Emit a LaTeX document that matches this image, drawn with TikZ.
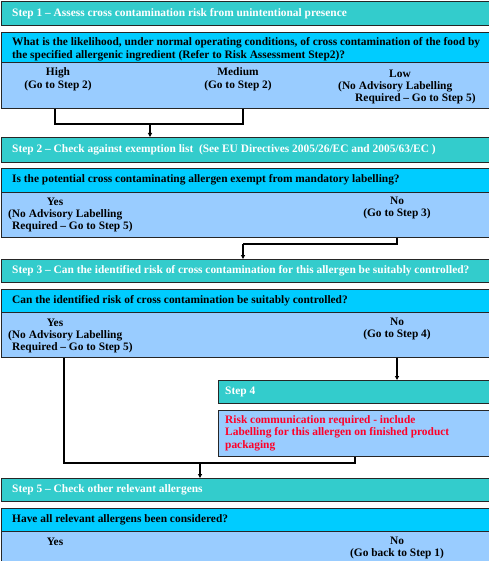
\documentclass[tikz,border=0pt]{standalone}
\usepackage{fontspec}
\setmainfont{Liberation Serif}
\usetikzlibrary{arrows.meta}
\definecolor{hdrc}{RGB}{51,204,204}
\definecolor{qc}{RGB}{0,204,255}
\definecolor{ac}{RGB}{153,204,255}
\definecolor{redc}{RGB}{255,0,40}
\begin{document}
\begin{tikzpicture}[x=1pt,y=-1pt,
  boxbase/.style={draw=black!85, line width=0.9pt, anchor=north west, inner sep=0pt, minimum width=#1},
  boxbase/.default=500pt,
  hdr/.style={boxbase, fill=hdrc},
  qbox/.style={boxbase, fill=qc},
  abox/.style={boxbase, fill=ac},
  ttl/.style={anchor=west, inner sep=0pt, text=white, font=\bfseries\fontsize{11.4}{12.5}\selectfont},
  qtxt/.style={anchor=west, inner sep=0pt, text=black, align=left, font=\bfseries\fontsize{11.4}{13}\selectfont},
  atxt/.style={anchor=center, inner sep=0pt, text=black, align=center, font=\bfseries\fontsize{11.4}{12.5}\selectfont},
  altxt/.style={anchor=west, inner sep=0pt, text=black, font=\bfseries\fontsize{11.4}{12.5}\selectfont},
  rtxt/.style={anchor=north west, inner sep=0pt, text=redc, align=left, font=\bfseries\fontsize{11.4}{12.5}\selectfont},
  conn/.style={draw=black, line width=1.1pt},
  arr/.style={conn, -{Triangle[length=4pt,width=4pt]}}
]
\useasboundingbox (0,0) rectangle (488,561);
\fill[white] (0,0) rectangle (488,561);

% ---- Step 1
\node[hdr, minimum height=24pt] (s1) at (1,1) {};
\node[ttl] (s1t) at (12,13.5) {Step 1 – Assess cross contamination risk from unintentional presence};
\node[qbox, minimum height=30pt] (q1) at (1,32) {};
\node[qtxt] (q1t) at (12,49) {What is the likelihood, under normal operating conditions, of cross contamination of the food by\\the specified allergenic ingredient (Refer to Risk Assessment Step2)?};
\node[abox, minimum height=46pt] (a1) at (1,62) {};
\node[atxt] (hi) at (58,79.5) {High\\(Go to Step 2)};
\node[atxt] (med) at (238,79.5) {Medium\\(Go to Step 2)};
\node[atxt] (low) at (400,73.5) {Low};
\node[altxt] (low2) at (338,86.5) {(No Advisory Labelling};
\node[altxt] (low3) at (355,99) {Required – Go to Step 5)};

% ---- Step 2
\node[hdr, minimum height=25pt] (s2) at (1,137) {};
\node[ttl] (s2t) at (12,150) {Step 2 – Check against exemption list \ (See EU Directives 2005/26/EC and 2005/63/EC )};
\node[qbox, minimum height=24pt] (q2) at (1,168) {};
\node[qtxt] (q2t) at (12,180) {Is the potential cross contaminating allergen exempt from mandatory labelling?};
\node[abox, minimum height=45pt] (a2) at (1,192) {};
\node[atxt] (y2) at (55,202) {Yes};
\node[altxt] (y2b) at (8,214.5) {(No Advisory Labelling};
\node[altxt] (y2c) at (12,227) {Required – Go to Step 5)};
\node[atxt] (n2) at (397,208) {No\\(Go to Step 3)};

% ---- Step 3
\node[hdr, minimum height=23pt] (s3) at (1,259) {};
\node[ttl] (s3t) at (12,270.5) {Step 3 – Can the identified risk of cross contamination for this allergen be suitably controlled?};
\node[qbox, minimum height=23pt] (q3) at (1,289) {};
\node[qtxt] (q3t) at (12,300.5) {Can the identified risk of cross contamination be suitably controlled?};
\node[abox, minimum height=45pt] (a3) at (1,312) {};
\node[atxt] (y3) at (55,323) {Yes};
\node[altxt] (y3b) at (8,335.5) {(No Advisory Labelling};
\node[altxt] (y3c) at (12,348) {Required – Go to Step 5)};
\node[atxt] (n3) at (397,329) {No\\(Go to Step 4)};

% ---- Step 4
\node[hdr, minimum height=23pt, minimum width=290pt] (s4) at (218,380) {};
\node[ttl] (s4t) at (225,391.5) {Step 4};
\node[abox, minimum height=46pt, minimum width=290pt] (r4) at (218,410) {};
\node[rtxt] (r4t) at (225,415) {Risk communication required - include\\Labelling for this allergen on finished product\\packaging};

% ---- Step 5
\node[hdr, minimum height=23pt] (s5) at (1,478) {};
\node[ttl] (s5t) at (12,489.5) {Step 5 – Check other relevant allergens};
\node[qbox, minimum height=23pt] (q5) at (1,508) {};
\node[qtxt] (q5t) at (12,519.5) {Have all relevant allergens been considered?};
\node[abox, minimum height=40pt] (a5) at (1,531) {};
\node[atxt] (y5) at (55,542) {Yes};
\node[atxt] (n5) at (397,548) {No\\(Go back to Step 1)};

% ---- connectors
\coordinate (j1) at (150,124);
\draw[conn] (a1.south -| 55,0) |- (j1) -| (a1.south -| 243,0);
\draw[arr] (j1) -- (s2.north -| j1);

\coordinate (j2) at (243,244);
\draw[conn] (a2.south -| n2) |- (j2);
\draw[arr] (j2) -- (s3.north -| j2);

\draw[arr] (a3.south -| n3) -- (s4.north -| n3);

\coordinate (j3) at (200,463);
\draw[conn] (a3.south -| 64,0) |- (j3) -| (r4.south -| 355,0);
\draw[arr] (j3) -- (s5.north -| j3);
\end{tikzpicture}
\end{document}
